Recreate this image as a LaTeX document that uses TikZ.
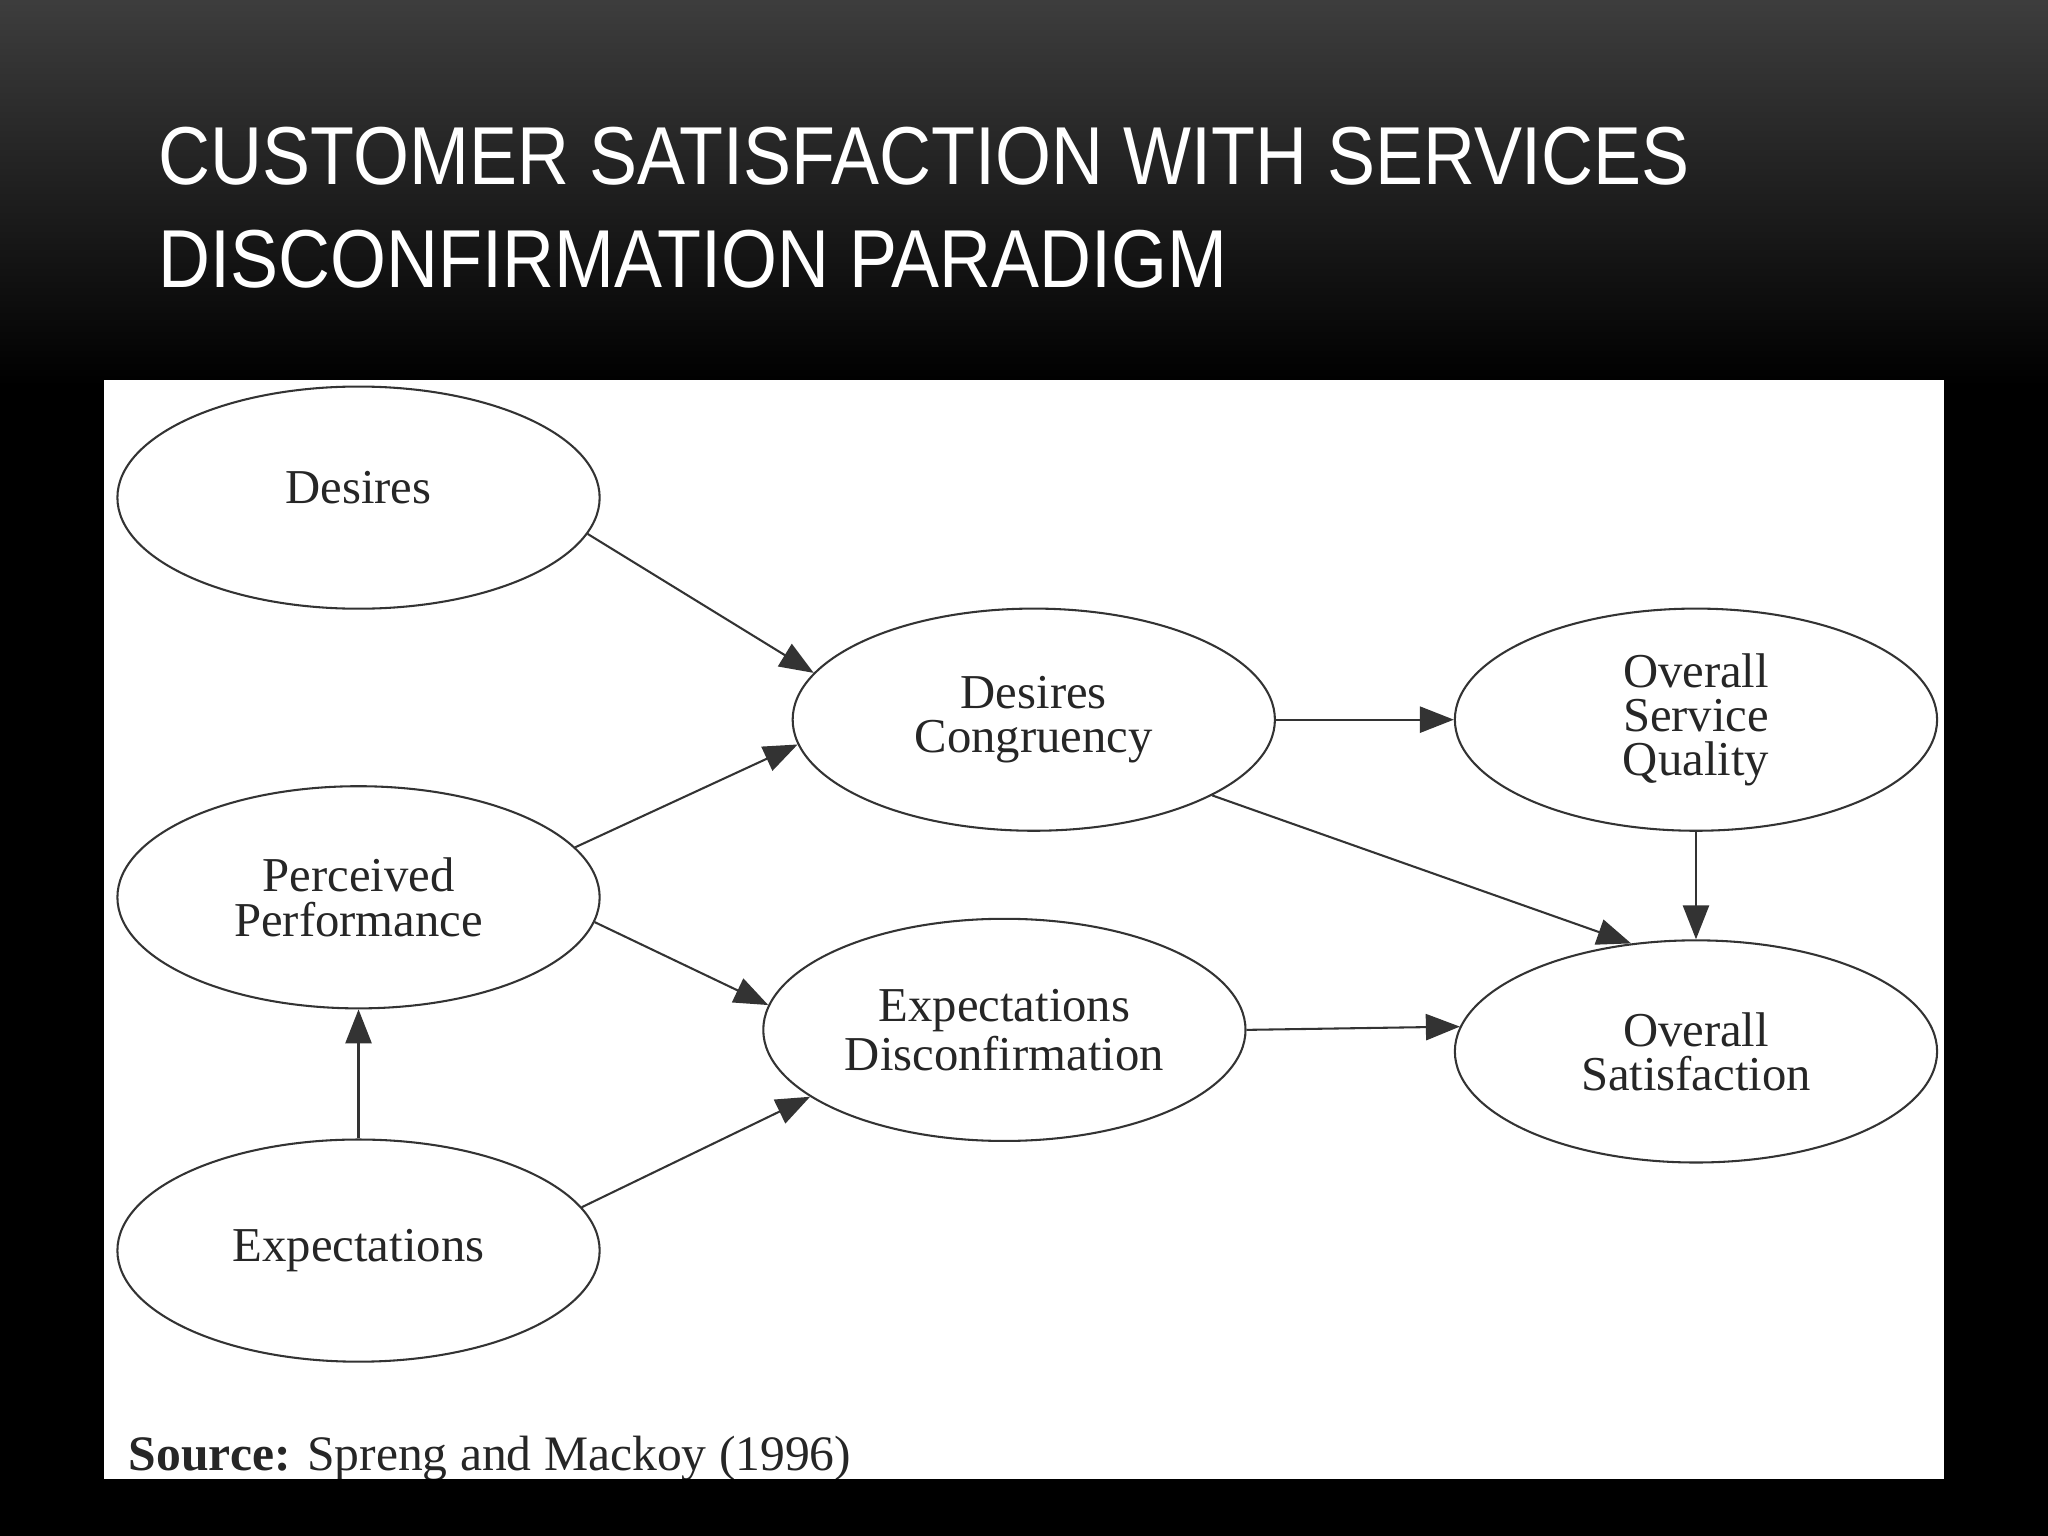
\documentclass[tikz,border=0pt]{standalone}
\usepackage{fontspec}
\setmainfont{Liberation Serif}
\newfontfamily\titlefont[FakeStretch=0.875]{Liberation Sans}
\usetikzlibrary{shapes.geometric,arrows.meta}
\tikzset{
  construct/.style={ellipse, draw=black!80, line width=0.45pt, fill=white,
    minimum width=3.69cm, minimum height=1.70cm, inner sep=0pt, align=center,
    text=black!85, font=\fontsize{10.6}{9.6}\selectfont},
  link/.style={draw=black!80, line width=0.45pt, -{Triangle[length=7.4pt,width=5.7pt]}},
  headline/.style={anchor=base west, inner sep=0pt, text=white,
    font=\titlefont\fontsize{17.9}{22}\selectfont},
}

\begin{document}
\begin{tikzpicture}[x=0.01cm,y=-0.01cm]
    \useasboundingbox (0,0) rectangle (1568,1176);
    \fill[black] (0,0) rectangle (1568,1176);
    \shade[top color=black!76, bottom color=black] (0,0) rectangle (1568,295);

    \node[headline] (title1) at (121,141) {CUSTOMER SATISFACTION WITH SERVICES};
    \node[headline] (title2) at (121,220) {DISCONFIRMATION PARADIGM};

    % figure panel
    \fill[white] (80,291) rectangle (1488,1132);

    \node[construct, text depth=4.5pt] (des) at (274.5,381) {Desires};
    \node[construct] (perf) at (274.5,687)   {Perceived\\Performance};
    \node[construct] (exp)  at (274.5,957.5) {Expectations};
    \node[construct] (cong) at (791.5,551)   {Desires\\Congruency};
    \node[construct] (disc) at (769,788.5)   {Expectations\\Disconfirmation};
    \node[construct] (qual) at (1298.5,551)  {Overall\\Service\\Quality};
    \node[construct] (sat)  at (1298.5,805)  {Overall\\Satisfaction};

    \draw[link] (des.-9.3) -- (cong.168);
    \draw[link] (perf.13) -- (cong.-174.4);
    \draw[link] (perf.-6.6) -- (disc.174.5);
    \draw[link] (exp.north) -- (perf.south);
    \draw[link] (exp.11.2) -- (disc.-161);
    \draw[link] (cong.east) -- (qual.west);
    \draw[link] (cong.-23) -- (sat.121);
    \draw[link] (qual.south) -- (sat.north);
    \draw[link] (disc.east) -- (sat.174.7);

    \begin{scope}
      \clip (80,291) rectangle (1488,1132);
      \node[anchor=base west, inner sep=0pt, text=black!85, font=\fontsize{10.8}{12}\selectfont]
        (src) at (98,1126) {\textbf{Source:} Spreng and Mackoy (1996)};
    \end{scope}
\end{tikzpicture}
\end{document}
